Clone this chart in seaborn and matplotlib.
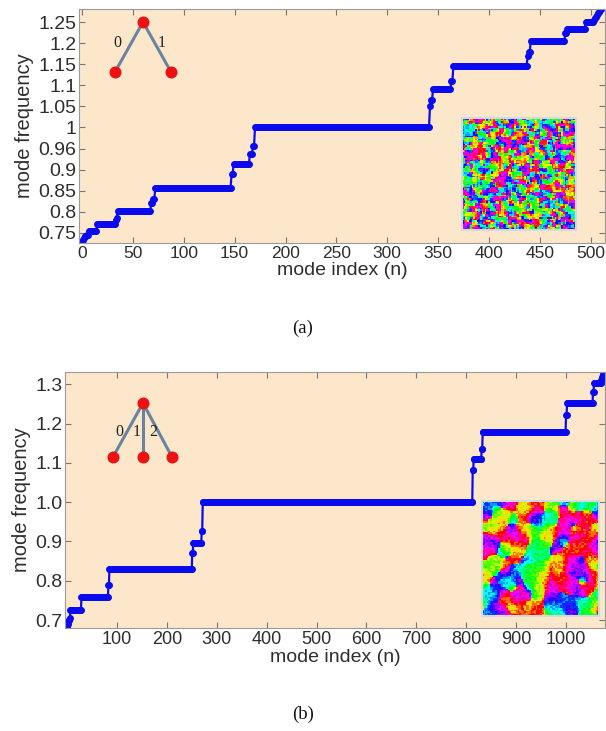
import numpy as np
import matplotlib
matplotlib.use("Agg")
import matplotlib.pyplot as plt
import seaborn as sns

# ----------------------------
# Data
# ----------------------------
# panel (a): binary tree, plateau levels and how many modes sit on each
a_levels = [0.730, 0.733, 0.737, 0.742, 0.745, 0.755, 0.772, 0.780, 0.786,
            0.801, 0.822, 0.830, 0.857, 0.890, 0.913, 0.937, 0.955, 1.000,
            1.051, 1.065, 1.091, 1.110, 1.146, 1.170, 1.179, 1.205, 1.224,
            1.233, 1.250, 1.255, 1.259, 1.263, 1.267, 1.271, 1.275, 1.279,
            1.282, 1.286]
a_counts = [1, 1, 1, 2, 2, 8, 18, 1, 1,
            33, 2, 2, 75, 2, 16, 3, 2, 172,
            1, 2, 18, 2, 73, 1, 2, 34, 2,
            18, 8, 1, 1, 1, 1, 1, 1, 1,
            1, 1]

# panel (b): ternary tree
b_levels = [0.682, 0.686, 0.690, 0.695, 0.700, 0.706, 0.727, 0.759, 0.789,
            0.830, 0.871, 0.896, 0.927, 1.000, 1.081, 1.111, 1.136, 1.179,
            1.221, 1.251, 1.280, 1.303, 1.310, 1.314, 1.318, 1.322, 1.326,
            1.330, 1.335, 1.340]
b_counts = [1, 1, 1, 1, 2, 1, 22, 54, 2,
            166, 2, 17, 2, 541, 2, 16, 2, 167,
            2, 52, 2, 14, 1, 1, 1, 1, 1,
            1, 1, 1]

a_yticks = [0.75, 0.8, 0.85, 0.9, 0.95, 1.0, 1.05, 1.1, 1.15, 1.2, 1.25]
a_ylabels = ["0.75", "0.8", "0.85", "0.9", "0.96", "1", "1.05", "1.1",
             "1.15", "1.2", "1.25"]
a_xticks = [0, 50, 100, 150, 200, 250, 300, 350, 400, 450, 500]
b_yticks = [0.7, 0.8, 0.9, 1.0, 1.1, 1.2, 1.3]
b_ylabels = ["0.7", "0.8", "0.9", "1.0", "1.1", "1.2", "1.3"]
b_xticks = [100, 200, 300, 400, 500, 600, 700, 800, 900, 1000]

a_freq = np.repeat(a_levels, a_counts)
b_freq = np.repeat(b_levels, b_counts)

W, H = 606, 731
BG = "#fce7cb"
BLUE = "#0a0af0"
TXT = "#2e2e2e"


def box(x0, y0, x1, y1):
    return [x0 / W, 1 - y1 / H, (x1 - x0) / W, (y1 - y0) / H]


sns.set_style("ticks")
plt.rcParams["font.family"] = ["Liberation Sans", "DejaVu Sans"]

fig = plt.figure(figsize=(W / 100, H / 100), dpi=100)


def spectrum(ax, freq, xlim, ylim, xticks, yticks, ylabels, xsize):
    n = np.arange(len(freq))
    sns.lineplot(x=n, y=freq, ax=ax, color=BLUE, linewidth=1.6,
                 marker="o", markersize=5, markeredgewidth=0)
    ax.set_facecolor(BG)
    ax.set_xlim(*xlim)
    ax.set_ylim(*ylim)
    ax.set_xticks(xticks)
    ax.set_yticks(yticks)
    ax.set_yticklabels(ylabels)
    ax.tick_params(direction="in", top=True, right=True, length=4,
                   width=0.8, color="#777777", labelcolor=TXT, pad=2)
    ax.tick_params(axis="x", labelsize=xsize)
    ax.tick_params(axis="y", labelsize=14)
    for s in ax.spines.values():
        s.set_color("#9a9a9a")
        s.set_linewidth(0.8)
    ax.set_xlabel("mode index (n)", fontsize=14, color=TXT, labelpad=1)
    ax.set_ylabel("mode frequency", fontsize=14.5, color=TXT, labelpad=3)


ax_a = fig.add_axes(box(79, 9, 605, 243))
spectrum(ax_a, a_freq, (-3, 514), (0.726, 1.281), a_xticks, a_yticks,
         a_ylabels, 12.5)

ax_b = fig.add_axes(box(65, 372, 605, 628))
spectrum(ax_b, b_freq, (-4, 1078), (0.68, 1.331), b_xticks, b_yticks,
         b_ylabels, 13)


# ----------------------------
# Inset textures (phase maps, decorative only)
# ----------------------------
def hash01(size, seed):
    i, j = np.mgrid[0:size, 0:size].astype(np.uint32)
    h = i * np.uint32(374761393) + j * np.uint32(668265263) + np.uint32(seed * 2654435761 % 2**32)
    h = (h ^ (h >> np.uint32(13))) * np.uint32(1274126177)
    h = h ^ (h >> np.uint32(16))
    return h.astype(float) / 2.0**32


def blur(z, r, passes):
    for _ in range(passes):
        acc = np.zeros_like(z)
        for dy in range(-r, r + 1):
            for dx in range(-r, r + 1):
                acc += np.roll(np.roll(z, dy, 0), dx, 1)
        z = acc
    return z


def phase_map(size, seed, r, passes, noise, levels):
    z = np.exp(2j * np.pi * hash01(size, seed))
    z = blur(z, r, passes)
    ph = (np.angle(z) + np.pi) / (2 * np.pi)
    ph = (ph + noise * (hash01(size, seed + 7) - 0.5)) % 1.0
    return np.floor(ph * levels) / levels


insets = [((462, 118, 576, 230), phase_map(70, 5, 1, 1, 0.05, 36)),
          ((482, 501, 599, 616), phase_map(72, 11, 2, 4, 0.12, 14))]
for (x0, y0, x1, y1), img in insets:
    iax = fig.add_axes(box(x0, y0, x1, y1))
    iax.imshow(img, cmap="hsv", vmin=0, vmax=1, interpolation="nearest",
               aspect="auto")
    iax.set_xticks([])
    iax.set_yticks([])
    for s in iax.spines.values():
        s.set_color("#d8d8d8")
        s.set_linewidth(1.5)

# ----------------------------
# Tree sketches and captions (pixel overlay)
# ----------------------------
ov = fig.add_axes([0, 0, 1, 1])
ov.set_xlim(0, W)
ov.set_ylim(H, 0)
ov.axis("off")
ov.patch.set_alpha(0)

line_c = "#6a83a0"
trees = [((143, 22), [(115, 72), (171, 72)], [("0", 117, 43), ("1", 162, 43)]),
         ((143, 403), [(113, 457), (143, 457), (172, 457)],
          [("0", 119, 432), ("1", 137, 432), ("2", 153, 432)])]
for root, leaves, labels in trees:
    for lx, ly in leaves:
        ov.plot([root[0], lx], [root[1], ly], color=line_c, lw=2.2, zorder=2)
    xs = [root[0]] + [p[0] for p in leaves]
    ys = [root[1]] + [p[1] for p in leaves]
    ov.scatter(xs, ys, s=75, color="#ee1111", zorder=3, linewidths=0)
    for t, tx, ty in labels:
        ov.text(tx, ty, t, fontsize=11.5, family="Liberation Serif",
                color="#222222", ha="center", va="center")

ov.text(303, 328, "(a)", fontsize=13.5, family="Liberation Serif",
        ha="center", va="center", color="#111111")
ov.text(303, 714, "(b)", fontsize=13.5, family="Liberation Serif",
        ha="center", va="center", color="#111111")

plt.savefig("out.png", dpi=100)
plt.close()
